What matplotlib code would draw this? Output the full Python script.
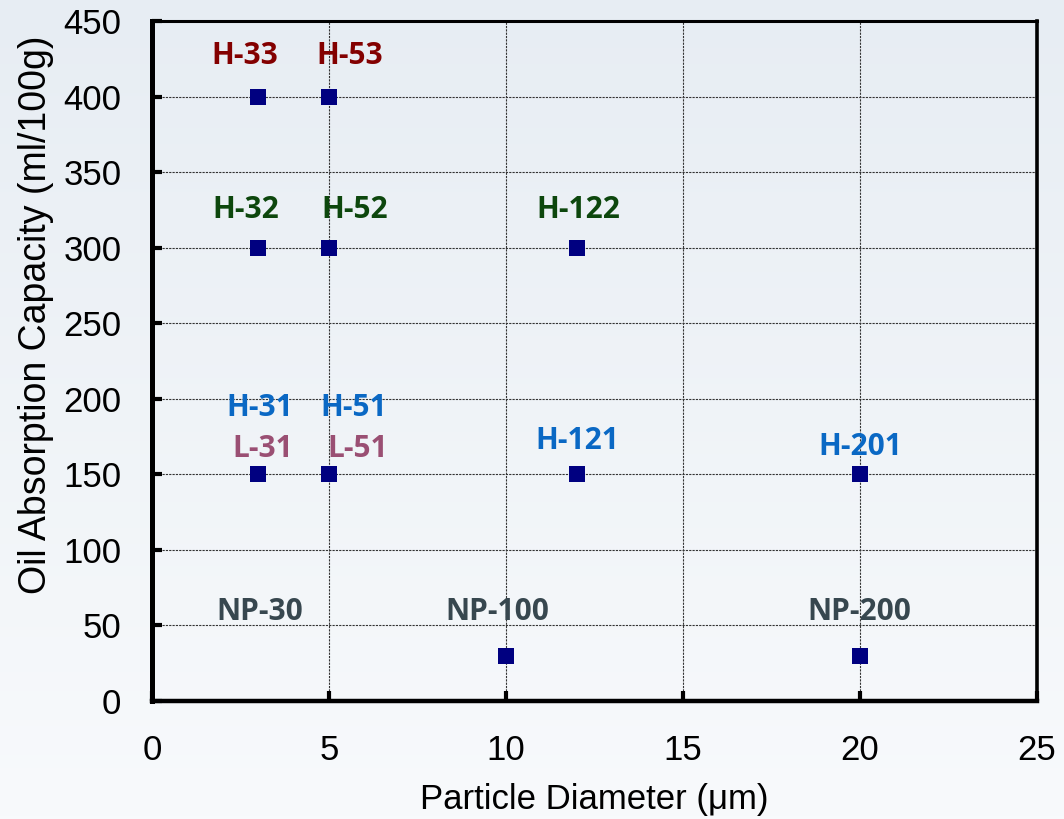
import matplotlib.pyplot as plt
import numpy as np
from matplotlib.colors import LinearSegmentedColormap

# -------------------------
# Data
# -------------------------
grades = ["H-33", "H-53", "H-32", "H-52", "H-122", "H-31", "H-51",
          "H-121", "H-201", "NP-100", "NP-200"]
diameter = [3, 5, 3, 5, 12, 3, 5, 12, 20, 10, 20]           # um
oil_abs = [400, 400, 300, 300, 300, 150, 150, 150, 150, 30, 30]  # ml/100g

# labels on the chart (some points carry two names, NP-30 has no marker)
label_text = ["H-33", "H-53", "H-32", "H-52", "H-122", "H-31", "H-51",
              "L-31", "L-51", "H-121", "H-201", "NP-30", "NP-100", "NP-200"]
label_x = [2.63, 5.59, 2.66, 5.73, 12.03, 3.05, 5.7, 3.14, 5.82, 12.0,
           20.0, 3.05, 9.75, 19.97]
label_y = [427, 427, 325, 325, 325, 194, 194, 167, 167, 172, 168, 59, 59, 59]

RED = "#830000"
GREEN = "#0d470d"
BLUE = "#0a68c4"
MAUVE = "#9a4f73"
SLATE = "#37474f"
label_color = [RED, RED, GREEN, GREEN, GREEN, BLUE, BLUE, MAUVE, MAUVE,
               BLUE, BLUE, SLATE, SLATE, SLATE]

# -------------------------
# Plot
# -------------------------
fig = plt.figure(figsize=(10.64, 8.19), dpi=100)

# soft vertical gradient background
bg = fig.add_axes([0, 0, 1, 1], zorder=-10)
grad = np.linspace(0, 1, 256).reshape(-1, 1)
cmap = LinearSegmentedColormap.from_list("bg", ["#e7edf3", "#f8fafc"])
bg.imshow(grad, aspect="auto", cmap=cmap, extent=[0, 1, 0, 1])
bg.axis("off")

ax = fig.add_axes([0.1429, 0.1441, 0.8318, 0.8303])
ax.set_facecolor("none")

ax.scatter(diameter, oil_abs, marker="s", s=125, color="#000080",
           zorder=3, linewidths=0)

for t, x, y, c in zip(label_text, label_x, label_y, label_color):
    ax.text(x, y, t, color=c, fontsize=21.5, fontweight="bold",
            family="Open Sans", ha="center", va="center", zorder=4)

ax.set_xlim(0, 25)
ax.set_ylim(0, 450)
ax.set_xticks(np.arange(0, 26, 5))
ax.set_yticks(np.arange(0, 451, 50))

ax.grid(True, linestyle=(0, (2, 1)), color="#333333", linewidth=0.8)
ax.set_axisbelow(True)

for side, lw in [("left", 3.6), ("bottom", 3.2), ("top", 2.2), ("right", 2.6)]:
    ax.spines[side].set_linewidth(lw)

ax.tick_params(axis="both", direction="in", length=7, width=3,
               labelsize=25)
ax.tick_params(axis="y", pad=22)
ax.tick_params(axis="x", pad=24)
for lab in ax.get_xticklabels() + ax.get_yticklabels():
    lab.set_family("Liberation Sans")

ax.set_xlabel("Particle Diameter (μm)", fontsize=25, family="Liberation Sans",
              labelpad=11)
ax.set_ylabel("Oil Absorption Capacity (ml/100g)", fontsize=27,
              family="Liberation Sans")
ax.yaxis.set_label_coords(-0.111, 0.568)

plt.savefig("out.png", dpi=100)
